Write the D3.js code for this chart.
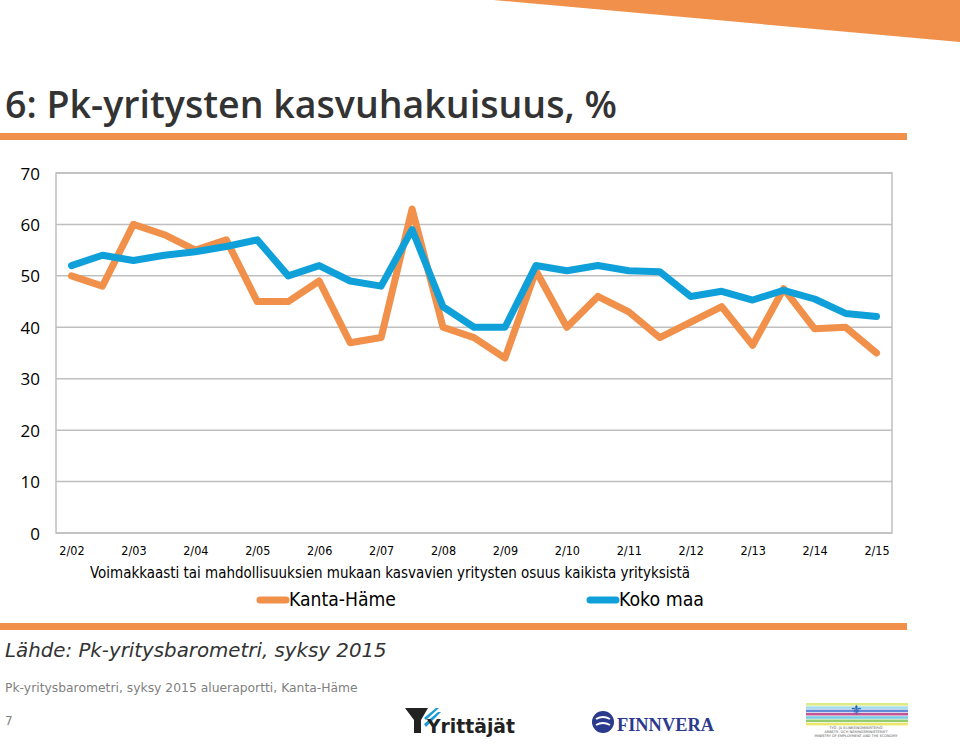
<!DOCTYPE html>
<html>
<head>
<meta charset="utf-8">
<script src="https://cdn.jsdelivr.net/npm/d3@7"></script>
<style>
  html, body { margin: 0; padding: 0; background: #fff; }
  svg { display: block; }
</style>
</head>
<body>
<svg id="chart" width="960" height="744"></svg>
<script>
// ---- data ----
const categories = ["2/02","1/03","2/03","1/04","2/04","1/05","2/05","1/06","2/06","1/07","2/07","1/08","2/08","1/09","2/09","1/10","2/10","1/11","2/11","1/12","2/12","1/13","2/13","1/14","2/14","1/15","2/15"];
const tickLabels = ["2/02","2/03","2/04","2/05","2/06","2/07","2/08","2/09","2/10","2/11","2/12","2/13","2/14","2/15"];
const kantaHame = [50,48,60,58,55,57,45,45,49,37,38,63,40,38,34,51,40,46,43,38,41,44,36.5,47.5,39.7,40,35];
const kokoMaa   = [52,54,53,54,54.7,55.7,57,50,52,49,48,59,44,40,40,52,51,52,51,50.8,46,47,45.3,47.2,45.5,42.7,42.1];
const yTicks = [0,10,20,30,40,50,60,70];
const seriesNames = ["Kanta-Häme","Koko maa"];

const ORANGE = "#F0904A", BLUE = "#0FA0DA";
const svg = d3.select("#chart");

// decorative wedge top-right
svg.append("path").attr("d","M493,0 L960,0 L960,42 Z").attr("fill", ORANGE);

function fitText(sel, width) {
  const fs = parseFloat(sel.attr("font-size"));
  const w = sel.node().getComputedTextLength();
  sel.attr("font-size", (fs * width / w).toFixed(2));
}

// title
const title = svg.append("text").attr("x",5).attr("y",118)
  .attr("font-family","'Open Sans', sans-serif").attr("font-weight",600)
  .attr("font-size",34).attr("fill","#333333")
  .text("6: Pk-yritysten kasvuhakuisuus, %");
fitText(title, 612);

svg.append("rect").attr("x",0).attr("y",133).attr("width",907).attr("height",7).attr("fill",ORANGE);

// plot
const m = {left:56, right:892, top:173, bottom:533};
const x = d3.scalePoint().domain(categories).range([m.left, m.right]).padding(0.5);
const y = d3.scaleLinear().domain([0,70]).range([m.bottom, m.top]);

const g = svg.append("g");
g.selectAll("line.grid").data(yTicks).join("line").attr("class","grid")
  .attr("x1",m.left).attr("x2",m.right).attr("y1",d=>y(d)).attr("y2",d=>y(d))
  .attr("stroke","#BFBFBF").attr("stroke-width",1.5);
g.append("rect").attr("x",m.left).attr("y",m.top).attr("width",m.right-m.left).attr("height",m.bottom-m.top)
  .attr("fill","none").attr("stroke","#BFBFBF").attr("stroke-width",1.5);

// y axis labels
const yAxis = d3.axisLeft(y).tickValues(yTicks).tickSize(0).tickPadding(0);
const ya = g.append("g").attr("transform",`translate(${40},0)`).call(yAxis);
ya.select(".domain").remove();
ya.selectAll("text").attr("font-family","'Open Sans', sans-serif").attr("font-size",17).attr("fill","#000").attr("dy","0.36em");

// x axis labels
const xAxis = d3.axisBottom(x).tickValues(tickLabels).tickSize(0).tickPadding(0);
const xa = g.append("g").attr("transform",`translate(0,${546})`).call(xAxis);
xa.select(".domain").remove();
xa.selectAll("text").attr("font-family","'DejaVu Sans Condensed','DejaVu Sans', sans-serif").attr("font-stretch","condensed")
  .attr("font-size",12.5).attr("fill","#000").attr("dy","0.71em");

// lines
const line = d3.line().x((d,i)=>x(categories[i])).y(d=>y(d));
[[kantaHame,ORANGE],[kokoMaa,BLUE]].forEach(([data,col])=>{
  g.append("path").datum(data).attr("d",line).attr("fill","none").attr("stroke",col)
    .attr("stroke-width",7).attr("stroke-linejoin","round").attr("stroke-linecap","round");
});

// subtitle
const sub = svg.append("text").attr("x",90).attr("y",578)
  .attr("font-family","'DejaVu Sans Condensed','DejaVu Sans', sans-serif").attr("font-stretch","condensed")
  .attr("font-size",13).attr("fill","#000")
  .text("Voimakkaasti tai mahdollisuuksien mukaan kasvavien yritysten osuus kaikista yrityksistä");
fitText(sub, 600);

// legend
const legend = [{name:seriesNames[0], col:ORANGE, x:258, w:107},{name:seriesNames[1], col:BLUE, x:588, w:85}];
legend.forEach(l=>{
  svg.append("line").attr("x1",l.x+2).attr("x2",l.x+28).attr("y1",600).attr("y2",600)
    .attr("stroke",l.col).attr("stroke-width",7).attr("stroke-linecap","round");
  const t = svg.append("text").attr("x",l.x+31).attr("y",606)
    .attr("font-family","'DejaVu Sans Condensed','DejaVu Sans', sans-serif").attr("font-stretch","condensed")
    .attr("font-size",17).attr("fill","#000").text(l.name);
  fitText(t, l.w);
});

svg.append("rect").attr("x",0).attr("y",623).attr("width",907).attr("height",7).attr("fill",ORANGE);

const src = svg.append("text").attr("x",5).attr("y",657)
  .attr("font-family","'DejaVu Sans', sans-serif").attr("font-style","italic")
  .attr("font-size",20).attr("fill","#333")
  .text("Lähde: Pk-yritysbarometri, syksy 2015");
fitText(src, 382);

const foot = svg.append("text").attr("x",5).attr("y",692)
  .attr("font-family","'DejaVu Sans', sans-serif").attr("font-size",13).attr("fill","#7f7f7f")
  .text("Pk-yritysbarometri, syksy 2015 alueraportti, Kanta-Häme");
fitText(foot, 353);

svg.append("text").attr("x",5).attr("y",725).attr("font-family","'DejaVu Sans', sans-serif")
  .attr("font-size",12).attr("fill","#7f7f7f").text("7");

// logos (approximate)
const lg = svg.append("g");
// Yrittäjät
lg.append("path").attr("d","M405,708 L428,708 L421,720 L421,733 L414,733 L414,720 Z").attr("fill","#222");
lg.append("path").attr("d","M424,718 L436,708 L439,708 L426,720 Z").attr("fill","#1a9ad6");
lg.append("path").attr("d","M424,724 L438,712 L441,712 L426,727 Z").attr("fill","#1a9ad6");
lg.append("text").attr("x",427).attr("y",733).attr("font-family","'DejaVu Sans', sans-serif").attr("font-weight",700)
  .attr("font-size",19).attr("fill","#222").text("Yrittäjät").call(s=>fitText(s,88));
// Finnvera
lg.append("circle").attr("cx",603).attr("cy",722).attr("r",11).attr("fill","#2b3a8c");
lg.append("path").attr("d","M596,719 Q603,715 610,719 M596,725 Q603,721 610,725").attr("stroke","#fff").attr("stroke-width",2).attr("fill","none");
lg.append("text").attr("x",617).attr("y",731).attr("font-family","'Liberation Serif', serif").attr("font-weight",700)
  .attr("font-size",22).attr("fill","#2b3a8c").text("FINNVERA").call(s=>fitText(s,97));
// ministry
const stripes = ["#d6e36a","#8fd2e8","#3a6fd0","#b22a7a","#5ac0de","#7bc04a","#e8e04a"];
stripes.forEach((c,i)=>lg.append("rect").attr("x",806).attr("y",703+i*3.3).attr("width",102).attr("height",2.6).attr("fill",c).attr("opacity",0.8));
lg.append("text").attr("x",856).attr("y",715).attr("text-anchor","middle").attr("font-size",14).attr("fill","#2b5fb0").text("⚜");
["TYÖ- JA ELINKEINOMINISTERIÖ","ARBETS- OCH NÄRINGSMINISTERIET","MINISTRY OF EMPLOYMENT AND THE ECONOMY"].forEach((t,i)=>
  lg.append("text").attr("x",856).attr("y",729+i*4).attr("text-anchor","middle").attr("font-family","'DejaVu Sans', sans-serif")
    .attr("font-size",3.5).attr("fill","#555").text(t));
</script>
</body>
</html>
